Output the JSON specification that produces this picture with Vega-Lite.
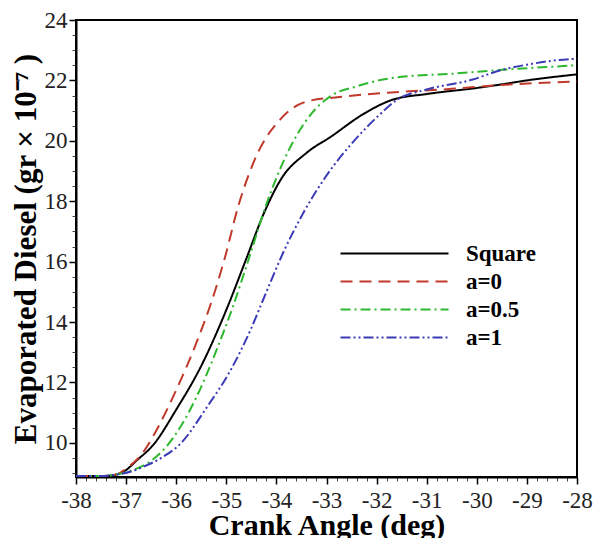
{
  "$schema": "https://vega.github.io/schema/vega-lite/v6.json",
  "width": 501,
  "height": 457,
  "autosize": "none",
  "padding": {"left": 76, "top": 20, "right": 18, "bottom": 61},
  "background": "white",
  "config": {
    "view": {"stroke": "black", "strokeWidth": 2},
    "font": "Liberation Serif",
    "legend": {"padding": 0}
  },
  "data": {
    "values": [
      {"series": "Square", "x": -38, "y": 8.9},
      {"series": "Square", "x": -37.5, "y": 8.9},
      {"series": "Square", "x": -37.2, "y": 8.95},
      {"series": "Square", "x": -37.0, "y": 9.1},
      {"series": "Square", "x": -36.8, "y": 9.4},
      {"series": "Square", "x": -36.45, "y": 9.95},
      {"series": "Square", "x": -36.0, "y": 11.1},
      {"series": "Square", "x": -35.5, "y": 12.55},
      {"series": "Square", "x": -35.0, "y": 14.4},
      {"series": "Square", "x": -34.6, "y": 16.1},
      {"series": "Square", "x": -34.25, "y": 17.6},
      {"series": "Square", "x": -33.9, "y": 18.75},
      {"series": "Square", "x": -33.4, "y": 19.6},
      {"series": "Square", "x": -32.9, "y": 20.15},
      {"series": "Square", "x": -32.3, "y": 20.85},
      {"series": "Square", "x": -31.7, "y": 21.35},
      {"series": "Square", "x": -31.0, "y": 21.55},
      {"series": "Square", "x": -30.0, "y": 21.75},
      {"series": "Square", "x": -29.5, "y": 21.87},
      {"series": "Square", "x": -29.0, "y": 22.0},
      {"series": "Square", "x": -28, "y": 22.2},
      {"series": "a=0", "x": -38, "y": 8.9},
      {"series": "a=0", "x": -37.5, "y": 8.9},
      {"series": "a=0", "x": -37.2, "y": 8.95},
      {"series": "a=0", "x": -37.0, "y": 9.15},
      {"series": "a=0", "x": -36.7, "y": 9.6},
      {"series": "a=0", "x": -36.4, "y": 10.4},
      {"series": "a=0", "x": -36.0, "y": 11.75},
      {"series": "a=0", "x": -35.6, "y": 13.3},
      {"series": "a=0", "x": -35.3, "y": 14.65},
      {"series": "a=0", "x": -35.05, "y": 16.0},
      {"series": "a=0", "x": -34.75, "y": 17.9},
      {"series": "a=0", "x": -34.4, "y": 19.5},
      {"series": "a=0", "x": -33.9, "y": 20.75},
      {"series": "a=0", "x": -33.4, "y": 21.3},
      {"series": "a=0", "x": -32.75, "y": 21.45},
      {"series": "a=0", "x": -31.7, "y": 21.6},
      {"series": "a=0", "x": -30.5, "y": 21.72},
      {"series": "a=0", "x": -29.5, "y": 21.85},
      {"series": "a=0", "x": -28, "y": 21.96},
      {"series": "a=0.5", "x": -38, "y": 8.9},
      {"series": "a=0.5", "x": -37.5, "y": 8.9},
      {"series": "a=0.5", "x": -37.2, "y": 8.95},
      {"series": "a=0.5", "x": -36.9, "y": 9.08},
      {"series": "a=0.5", "x": -36.55, "y": 9.35},
      {"series": "a=0.5", "x": -36.2, "y": 9.87},
      {"series": "a=0.5", "x": -35.6, "y": 11.5},
      {"series": "a=0.5", "x": -35.2, "y": 13.05},
      {"series": "a=0.5", "x": -34.87, "y": 14.5},
      {"series": "a=0.5", "x": -34.55, "y": 16.1},
      {"series": "a=0.5", "x": -34.2, "y": 17.9},
      {"series": "a=0.5", "x": -33.75, "y": 19.7},
      {"series": "a=0.5", "x": -33.3, "y": 20.9},
      {"series": "a=0.5", "x": -32.9, "y": 21.5},
      {"series": "a=0.5", "x": -32.4, "y": 21.8},
      {"series": "a=0.5", "x": -31.9, "y": 22.02},
      {"series": "a=0.5", "x": -31.5, "y": 22.12},
      {"series": "a=0.5", "x": -30.5, "y": 22.22},
      {"series": "a=0.5", "x": -29.5, "y": 22.35},
      {"series": "a=0.5", "x": -28, "y": 22.5},
      {"series": "a=1", "x": -38, "y": 8.9},
      {"series": "a=1", "x": -37.5, "y": 8.9},
      {"series": "a=1", "x": -37.2, "y": 8.95},
      {"series": "a=1", "x": -36.9, "y": 9.05},
      {"series": "a=1", "x": -36.6, "y": 9.25},
      {"series": "a=1", "x": -36.3, "y": 9.5},
      {"series": "a=1", "x": -35.9, "y": 10.0},
      {"series": "a=1", "x": -35.4, "y": 11.15},
      {"series": "a=1", "x": -34.9, "y": 12.45},
      {"series": "a=1", "x": -34.5, "y": 13.8},
      {"series": "a=1", "x": -34.2, "y": 15.0},
      {"series": "a=1", "x": -33.85, "y": 16.35},
      {"series": "a=1", "x": -33.45, "y": 17.65},
      {"series": "a=1", "x": -33.0, "y": 18.85},
      {"series": "a=1", "x": -32.45, "y": 20.0},
      {"series": "a=1", "x": -31.95, "y": 20.85},
      {"series": "a=1", "x": -31.6, "y": 21.35},
      {"series": "a=1", "x": -31.0, "y": 21.7},
      {"series": "a=1", "x": -30.1, "y": 22.02},
      {"series": "a=1", "x": -29.5, "y": 22.35},
      {"series": "a=1", "x": -29.0, "y": 22.52},
      {"series": "a=1", "x": -28.5, "y": 22.65},
      {"series": "a=1", "x": -28, "y": 22.72}
    ]
  },
  "resolve": {"axis": {"x": "independent", "y": "independent"}},
  "layer": [
    {
      "mark": {"type": "line", "opacity": 0},
      "encoding": {
        "x": {"field": "x", "type": "quantitative", "scale": {"domain": [-38, -28], "nice": false},
          "axis": {"orient": "bottom", "values": [-37.8,-37.6,-37.4,-37.2,-36.8,-36.6,-36.4,-36.2,-35.8,-35.6,-35.4,-35.2,-34.8,-34.6,-34.4,-34.2,-33.8,-33.6,-33.4,-33.2,-32.8,-32.6,-32.4,-32.2,-31.8,-31.6,-31.4,-31.2,-30.8,-30.6,-30.4,-30.2,-29.8,-29.6,-29.4,-29.2,-28.8,-28.6,-28.4,-28.2],
            "labels": false, "title": null, "domain": false, "grid": false, "tickSize": 4, "tickColor": "#444", "tickWidth": 1}},
        "y": {"field": "y", "type": "quantitative", "scale": {"domain": [8.87, 24], "nice": false, "zero": false},
          "axis": {"orient": "left", "values": [9,9.5,10.5,11,11.5,12.5,13,13.5,14.5,15,15.5,16.5,17,17.5,18.5,19,19.5,20.5,21,21.5,22.5,23,23.5],
            "labels": false, "title": null, "domain": false, "grid": false, "tickSize": 4, "tickColor": "#444", "tickWidth": 1}},
        "detail": {"field": "series"}
      }
    },
    {
      "mark": {"type": "line", "strokeWidth": 2, "interpolate": "monotone"},
      "encoding": {
        "x": {"field": "x", "type": "quantitative", "scale": {"domain": [-38, -28], "nice": false},
          "axis": {"orient": "bottom", "values": [-38,-37,-36,-35,-34,-33,-32,-31,-30,-29,-28], "title": "Crank Angle (deg)",
            "labelExpr": "'' + datum.value", "labelOverlap": false, "labelBound": false, "labelFlush": false,
            "grid": false, "domainColor": "black", "domainWidth": 2, "tickColor": "black", "tickWidth": 1.5, "tickSize": 7,
            "labelFont": "Liberation Serif", "labelFontSize": 23, "labelColor": "#222", "labelPadding": 5,
            "titleFont": "Liberation Serif", "titleFontSize": 30, "titleFontWeight": "bold", "titleColor": "black", "titlePadding": -2}},
        "y": {"field": "y", "type": "quantitative", "scale": {"domain": [8.87, 24], "nice": false, "zero": false},
          "axis": {"orient": "left", "values": [10,12,14,16,18,20,22,24], "title": "Evaporated Diesel (gr × 10⁻⁷ )",
            "labelOverlap": false, "labelBound": false, "labelFlush": false,
            "grid": false, "domainColor": "black", "domainWidth": 2, "tickColor": "black", "tickWidth": 1.5, "tickSize": 7,
            "labelFont": "Liberation Serif", "labelFontSize": 23, "labelColor": "#222", "labelPadding": 2,
            "titleFont": "Liberation Serif", "titleFontSize": 31, "titleFontWeight": "bold", "titleColor": "black", "titlePadding": 2}},
        "color": {"field": "series", "type": "nominal",
          "scale": {"domain": ["Square", "a=0", "a=0.5", "a=1"], "range": ["black", "#c0392b", "#2eb82e", "#3b3bb8"]},
          "legend": {"orient": "none", "legendX": 304, "legendY": 219, "title": null, "symbolType": "M-4,0H4",
            "symbolSize": 729, "symbolStrokeWidth": 2, "symbolFillColor": "transparent", "labelFont": "Liberation Serif", "labelFontSize": 23,
            "labelFontWeight": "bold", "labelColor": "black", "labelOffset": 57, "rowPadding": 1}},
        "strokeDash": {"field": "series", "type": "nominal",
          "scale": {"domain": ["Square", "a=0", "a=0.5", "a=1"], "range": [[1, 0], [12, 7], [10, 4, 2, 4], [10, 3, 2, 3, 2, 3]]},
          "legend": {"orient": "none", "legendX": 304, "legendY": 219, "title": null, "symbolType": "M-4,0H4",
            "symbolSize": 729, "symbolStrokeWidth": 2, "symbolFillColor": "transparent", "labelFont": "Liberation Serif", "labelFontSize": 23,
            "labelFontWeight": "bold", "labelColor": "black", "labelOffset": 57, "rowPadding": 1}}
      }
    }
  ]
}
